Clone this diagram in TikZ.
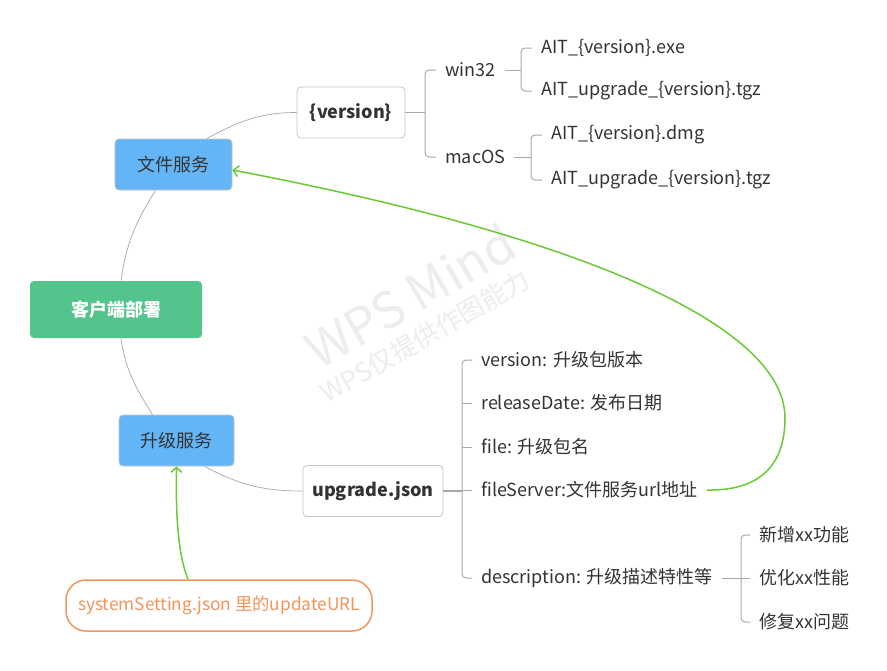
\documentclass[tikz,border=0pt]{standalone}
\usepackage{fontspec}
\setmainfont{Noto Sans CJK SC}
\usepackage{tikz}
\usetikzlibrary{arrows.meta,calc,positioning}
\definecolor{txtgray}{HTML}{333333}
\definecolor{linegray}{HTML}{A8A8A8}
\definecolor{boxgray}{HTML}{C4C4C4}
\definecolor{rootgreen}{HTML}{52C48C}
\definecolor{topicblue}{HTML}{64B5F6}
\definecolor{relgreen}{HTML}{6CC936}
\definecolor{noteorange}{HTML}{F0955B}
\definecolor{markgray}{HTML}{EDEDED}
\tikzset{
	mind map/.style={
		x=1pt, y=1pt,
		font=\fontsize{18}{21}\selectfont,
		text=txtgray,
		link/.style={draw=linegray, line width=0.7pt},
		branch/.style={draw=linegray, line width=1pt, rounded corners=4pt},
		stub/.style={draw=linegray, line width=1.6pt},
		rel/.style={draw=relgreen, line width=1.5pt,
			-{Straight Barb[length=5pt,width=11pt,line width=1.5pt]}}
		},
	box/.style={draw=boxgray, line width=0.8pt, rounded corners=4pt,
		minimum height=51pt, inner sep=0pt},
	rootbox/.style={box, draw=none, fill=rootgreen, text=white,
		minimum width=172pt, minimum height=57pt, font=\fontsize{18}{21}\selectfont\bfseries},
	topicbox/.style={box, fill=topicblue, minimum width=#1},
	subbox/.style={box, fill=white, minimum width=#1, font=\fontsize{18}{21}\selectfont\bfseries},
	leaf/.style={anchor=west, inner xsep=9pt, inner ysep=2pt, xshift=-9pt},
	notebox/.style={draw=noteorange, line width=1.5pt, rounded corners=20pt,
		text=noteorange, minimum width=306pt, minimum height=51pt, inner sep=0pt,
		font=\fontsize{17.3}{21}\selectfont},
	watermark/.style={text=markgray, rotate=30, inner sep=0pt}
}

\begin{document}
\begin{tikzpicture}[mind map]
	\useasboundingbox[fill=white] (0,0) rectangle (887,-670);
	% watermark
	\node[watermark, font=\fontsize{50}{50}\selectfont] (wm1) at (410,-296) {WPS Mind};
	\node[watermark, font=\fontsize{26}{26}\selectfont] (wm2) at (425,-336) {WPS仅提供作图能力};
	% main topics
	\node[rootbox] (root) at (116,-309.5) {客户端部署};
	\node[topicbox=117pt] (file) at (173.5,-164.5) {文件服务};
	\node[topicbox=115pt] (upg) at (176.5,-440.5) {升级服务};
	\node[subbox=108pt] (ver) at (351,-112.5) {\{version\}};
	\node[subbox=140pt] (json) at (373,-491) {upgrade.json};
	\node[notebox] (sys) at (219,-605.5) {systemSetting.json 里的updateURL};
	% leaves
	\node[leaf] (win) at (445,-70) {win32};
	\node[leaf] (mac) at (445,-157) {macOS};
	\node[leaf] (exe) at (541,-48) {AIT\_\{version\}.exe};
	\node[leaf] (wtgz) at (541,-91) {AIT\_upgrade\_\{version\}.tgz};
	\node[leaf] (dmg) at (551,-135) {AIT\_\{version\}.dmg};
	\node[leaf] (mtgz) at (551,-180) {AIT\_upgrade\_\{version\}.tgz};
	\node[leaf] (vers) at (481,-360) {version: 升级包版本};
	\node[leaf] (rdate) at (481,-403) {releaseDate: 发布日期};
	\node[leaf] (fname) at (481,-447) {file: 升级包名};
	\node[leaf] (fserv) at (481,-490) {fileServer:文件服务url地址};
	\node[leaf] (desc) at (481,-578) {description: 升级描述特性等};
	\node[leaf] (add) at (759,-535) {新增xx功能};
	\node[leaf] (opt) at (759,-578) {优化xx性能};
	\node[leaf] (fix) at (759,-622) {修复xx问题};
	% curved links
	\draw[link] ([xshift=5pt]root.north) to[out=82,in=238] ([xshift=-18pt]file.south);
	\draw[link] ([xshift=33pt]file.north) to[out=28,in=180] (ver.west);
	\draw[link] ([xshift=5pt]root.south) to[out=-82,in=122] ([xshift=-24pt]upg.north);
	\draw[link] ([xshift=28pt]upg.south) to[out=-28,in=180] (json.west);
	% brackets
	\coordinate (verJ) at (425,-112.5);
	\draw[stub] (ver.east) -- (verJ);
	\draw[branch] (win.west) -| (verJ) |- (mac.west);
	\coordinate (winJ) at (521,-70);
	\draw[branch] (win.east) -- (winJ);
	\draw[branch] (exe.west) -| (winJ) |- (wtgz.west);
	\coordinate (macJ) at (531,-157);
	\draw[branch] (mac.east) -- (macJ);
	\draw[branch] (dmg.west) -| (macJ) |- (mtgz.west);
	\coordinate (jsonJ) at (462,-491);
	\draw[stub] (json.east) -- (jsonJ);
	\draw[branch] (vers.west) -| (jsonJ) |- (desc.west);
	\foreach \n in {rdate,fname,fserv}
		\draw[branch] (jsonJ |- \n.west) -- (\n.west);
	\coordinate (descJ) at (741,-578);
	\draw[branch] (desc.east) -- (descJ);
	\draw[branch] (add.west) -| (descJ) |- (fix.west);
	\draw[branch] (descJ) -- (opt.west);
	% relations
	\coordinate (bend) at (785,-418);
	\draw[rel] (fserv.east) .. controls (760,-491) and (785,-465) .. (bend)
		.. controls (785,-330) and (600,-240) .. ([yshift=-5.5pt]file.east);
	\draw[rel] ([xshift=-31pt]sys.north) .. controls (176,-550) and (176,-500) .. (upg.south);
\end{tikzpicture}
\end{document}
